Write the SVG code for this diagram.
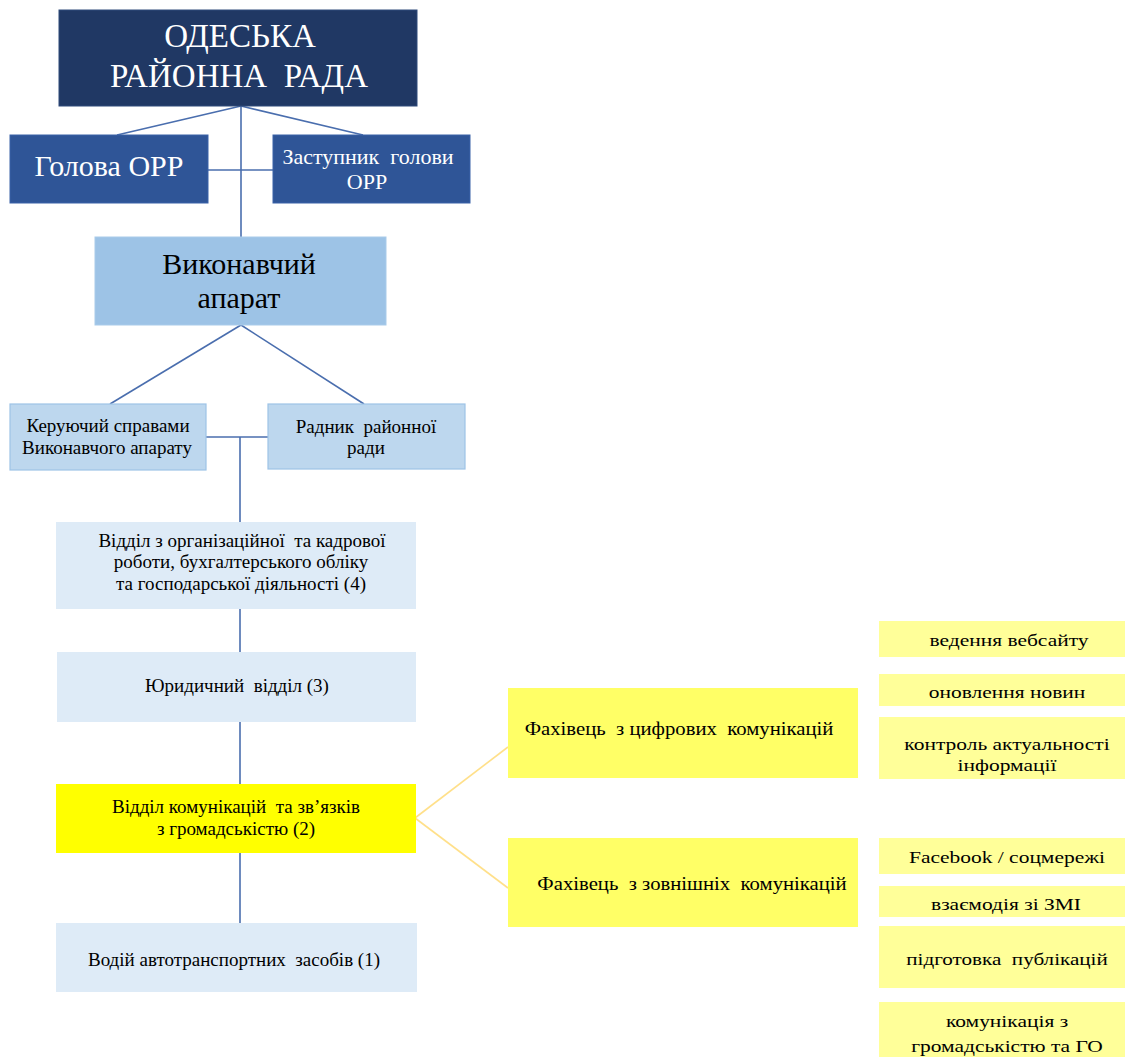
<svg xmlns="http://www.w3.org/2000/svg" width="1125" height="1057" viewBox="0 0 1125 1057">
<style>
text{font-family:"Liberation Serif","Times New Roman",serif;text-anchor:middle;fill:#000}
.w{fill:#fff}
.blue{stroke:#4A6EAE;stroke-width:1.6;fill:none}
.yl{stroke:#FFE08A;stroke-width:1.6;fill:none}
.t1{font-size:33px}
.t2{font-size:30px}
.t3{font-size:22px}
.t4{font-size:30px}
.s{font-size:19px}
.f{font-size:18.5px}
.r{font-size:17.6px}
</style>
<rect width="1125" height="1057" fill="#fff"/>
<g id="connectors">
<line class="blue" x1="241" y1="106" x2="241" y2="237"/>
<line class="blue" x1="241" y1="106" x2="117" y2="135"/>
<line class="blue" x1="241" y1="106" x2="363" y2="135"/>
<line class="blue" x1="208" y1="170" x2="273" y2="170"/>
<line class="blue" x1="241" y1="325" x2="110" y2="404"/>
<line class="blue" x1="241" y1="325" x2="364" y2="404"/>
<line class="blue" x1="206" y1="437" x2="268" y2="437"/>
<line class="blue" x1="240" y1="437" x2="240" y2="522"/>
<line class="blue" x1="240" y1="609" x2="240" y2="652"/>
<line class="blue" x1="240" y1="722" x2="240" y2="784"/>
<line class="blue" x1="240" y1="853" x2="240" y2="923"/>
<line class="yl" x1="415" y1="818" x2="508" y2="747"/>
<line class="yl" x1="415" y1="818" x2="508" y2="888"/>
</g>
<g id="rada">
<rect x="59" y="10" width="358" height="96" fill="#203864" stroke="#2E4A7A" stroke-width="1"/>
<text class="t1 w" x="240" y="47">ОДЕСЬКА</text>
<text class="t1 w" x="239" y="87" xml:space="preserve">РАЙОННА  РАДА</text>
</g>
<g id="holova">
<rect x="10" y="135" width="198" height="68" fill="#2F5597" stroke="#3A62A8" stroke-width="1"/>
<text class="t2 w" x="109" y="176">Голова ОРР</text>
</g>
<g id="zastupnyk">
<rect x="273" y="135" width="197" height="68" fill="#2F5597" stroke="#3A62A8" stroke-width="1"/>
<text class="t3 w" x="368" y="164" xml:space="preserve">Заступник  голови</text>
<text class="t3 w" x="367" y="189">ОРР</text>
</g>
<g id="vykonavchyi">
<rect x="95" y="237" width="291" height="88" fill="#9DC3E6" stroke="#A9CBEA" stroke-width="1"/>
<text class="t4" x="239" y="274">Виконавчий</text>
<text class="t4" x="239" y="308">апарат</text>
</g>
<g id="keruiuchyi">
<rect x="10" y="404" width="196" height="66" fill="#BDD7EE" stroke="#9DC3E6" stroke-width="1.2"/>
<text class="s" x="108" y="432">Керуючий справами</text>
<text class="s" x="107" y="454">Виконавчого апарату</text>
</g>
<g id="radnyk">
<rect x="268" y="404" width="197" height="65" fill="#BDD7EE" stroke="#9DC3E6" stroke-width="1.2"/>
<text class="s" x="366" y="433" xml:space="preserve">Радник  районної</text>
<text class="s" x="366" y="454">ради</text>
</g>
<g id="viddil-org">
<rect x="56" y="522" width="360" height="87" fill="#DEEBF7"/>
<text class="s" x="242" y="547" xml:space="preserve">Відділ з організаційної  та кадрової</text>
<text class="s" x="241" y="568">роботи, бухгалтерського обліку</text>
<text class="s" x="241" y="590">та господарської діяльності (4)</text>
</g>
<g id="yurydychnyi">
<rect x="57" y="652" width="359" height="70" fill="#DEEBF7"/>
<text class="s" x="237" y="692" xml:space="preserve">Юридичний  відділ (3)</text>
</g>
<g id="viddil-komunikatsii">
<rect x="56" y="784" width="360" height="69" fill="#FFFF00"/>
<text class="s" x="236" y="813" xml:space="preserve">Відділ комунікацій  та зв’язків</text>
<text class="s" x="236" y="835">з громадськістю (2)</text>
</g>
<g id="vodii">
<rect x="56" y="923" width="361" height="69" fill="#DEEBF7"/>
<text class="s" x="234" y="966" xml:space="preserve">Водій автотранспортних  засобів (1)</text>
</g>
<g id="fakhivets-tsyfrovi">
<rect x="508" y="688" width="350" height="90" fill="#FFFF66"/>
<text class="f" transform="translate(679,735) scale(1.12,1)" xml:space="preserve">Фахівець  з цифрових  комунікацій</text>
</g>
<g id="fakhivets-zovnishni">
<rect x="508" y="838" width="350" height="89" fill="#FFFF66"/>
<text class="f" transform="translate(692,890) scale(1.12,1)" xml:space="preserve">Фахівець  з зовнішніх  комунікацій</text>
</g>
<g id="vebsait">
<rect x="879" y="621" width="246" height="36" fill="#FFFF99"/>
<text class="r" transform="translate(1009,646) scale(1.22,1)">ведення вебсайту</text>
</g>
<g id="novyny">
<rect x="879" y="674" width="246" height="32" fill="#FFFF99"/>
<text class="r" transform="translate(1007,698) scale(1.22,1)">оновлення новин</text>
</g>
<g id="kontrol">
<rect x="879" y="717" width="246" height="62" fill="#FFFF99"/>
<text class="r" transform="translate(1007,750) scale(1.22,1)">контроль актуальності</text>
<text class="r" transform="translate(1007,771) scale(1.22,1)">інформації</text>
</g>
<g id="facebook">
<rect x="879" y="838" width="246" height="36" fill="#FFFF99"/>
<text class="r" transform="translate(1007,863) scale(1.22,1)">Facebook / соцмережі</text>
</g>
<g id="zmi">
<rect x="879" y="886" width="246" height="31" fill="#FFFF99"/>
<text class="r" transform="translate(1006,910) scale(1.22,1)">взаємодія зі ЗМІ</text>
</g>
<g id="publikatsii">
<rect x="879" y="926" width="246" height="62" fill="#FFFF99"/>
<text class="r" transform="translate(1007,965) scale(1.2,1)" xml:space="preserve">підготовка  публікацій</text>
</g>
<g id="hromadskist">
<rect x="879" y="1002" width="246" height="55" fill="#FFFF99"/>
<text class="r" transform="translate(1007,1027) scale(1.22,1)">комунікація з</text>
<text class="r" transform="translate(1007,1052) scale(1.22,1)">громадськістю та ГО</text>
</g>
</svg>
